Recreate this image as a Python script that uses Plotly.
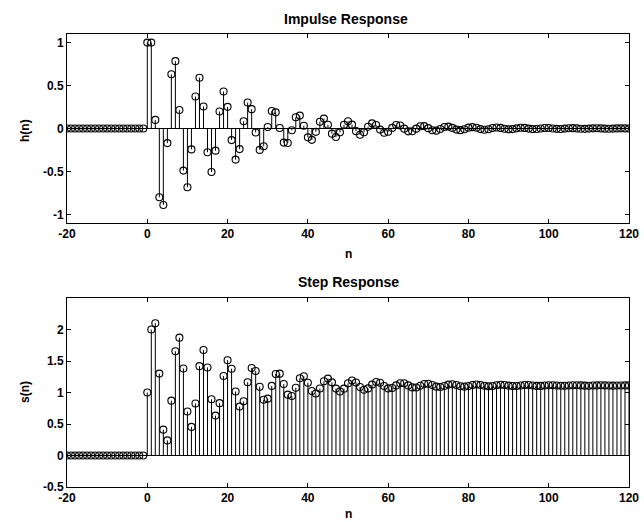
import plotly.graph_objects as go

# sample index n = -20 ... 120
n_start = -20
n_end = 120
n = list(range(n_start, n_end + 1))

# impulse response h(n): zeros for n < 0, then values for n = 0..120
h_neg = [0.0] * 20
h_pos = [
    1.0, 1.0, 0.1, -0.8, -0.89, -0.17, 0.631, 0.784, 0.216, -0.490,          # 0-9
    -0.684, -0.243, 0.372, 0.591, 0.256, -0.276, -0.506, -0.258, 0.198, 0.430, # 10-19
    0.252, -0.135, -0.362, -0.240, 0.085, 0.302, 0.225, -0.046, -0.249, -0.207, # 20-29
    0.017, 0.203, 0.188, 0.005, -0.164, -0.169, -0.021, 0.131, 0.150, 0.032,  # 30-39
    -0.103, -0.132, -0.039, 0.079, 0.115, 0.043, -0.060, -0.099, -0.045, 0.044, # 40-49
    0.084, 0.045, -0.031, -0.072, -0.043, 0.021, 0.060, 0.041, -0.013, -0.050, # 50-59
    -0.038, 0.007, 0.041, 0.035, -0.002, -0.033, -0.032, -0.002, 0.027, 0.028, # 60-69
    0.004, -0.021, -0.025, -0.006, 0.017, 0.022, 0.007, -0.013, -0.019, -0.008, # 70-79
    0.010, 0.016, 0.008, -0.007, -0.014, -0.008, 0.005, 0.012, 0.007, -0.003, # 80-89
    -0.010, -0.007, 0.002, 0.008, 0.007, -0.001, -0.007, -0.006, 0.000, 0.006, # 90-99
    0.005, 0.000, -0.004, -0.005, -0.001, 0.003, 0.004, 0.001, -0.003, -0.004, # 100-109
    -0.001, 0.002, 0.003, 0.001, -0.002, -0.003, -0.001, 0.001, 0.002, 0.001, # 110-119
    -0.001,                                                                    # 120
]
h = h_neg + h_pos

# step response s(n)
s_neg = [0.0] * 20
s_pos = [
    1.0, 2.0, 2.1, 1.3, 0.41, 0.24, 0.871, 1.655, 1.871, 1.382,               # 0-9
    0.698, 0.454, 0.826, 1.418, 1.674, 1.398, 0.892, 0.633, 0.831, 1.261,     # 10-19
    1.513, 1.378, 1.016, 0.776, 0.861, 1.163, 1.388, 1.341, 1.092, 0.885,     # 20-29
    0.902, 1.105, 1.294, 1.299, 1.134, 0.966, 0.945, 1.076, 1.225, 1.257,     # 30-39
    1.155, 1.023, 0.984, 1.063, 1.178, 1.221, 1.161, 1.062, 1.017, 1.061,     # 40-49
    1.146, 1.191, 1.159, 1.088, 1.044, 1.065, 1.125, 1.167, 1.154, 1.104,     # 50-59
    1.065, 1.072, 1.113, 1.148, 1.146, 1.113, 1.081, 1.079, 1.106, 1.135,     # 60-69
    1.139, 1.118, 1.093, 1.087, 1.103, 1.125, 1.132, 1.120, 1.100, 1.093,     # 70-79
    1.102, 1.119, 1.127, 1.120, 1.106, 1.098, 1.103, 1.115, 1.122, 1.119,     # 80-89
    1.109, 1.102, 1.104, 1.112, 1.119, 1.118, 1.111, 1.105, 1.105, 1.111,     # 90-99
    1.116, 1.116, 1.112, 1.107, 1.106, 1.110, 1.114, 1.115, 1.113, 1.109,     # 100-109
    1.108, 1.110, 1.113, 1.114, 1.113, 1.110, 1.109, 1.110, 1.112, 1.113,     # 110-119
    1.113,                                                                     # 120
]
s = s_neg + s_pos

xticks = [-20, 0, 20, 40, 60, 80, 100, 120]
h_yticks = [-1, -0.5, 0, 0.5, 1]
h_yticklabels = ["-1", "-0.5", "0", "0.5", "1"]
s_yticks = [-0.5, 0, 0.5, 1, 1.5, 2]
s_yticklabels = ["-0.5", "0", "0.5", "1", "1.5", "2"]

FONT = "Liberation Sans"
W, H = 644, 522

fig = go.Figure()


def stem(xs, ys, xa, ya):
    sx, sy = [], []
    for xv, yv in zip(xs, ys):
        sx += [xv, xv, None]
        sy += [0, yv, None]
    # baseline
    fig.add_trace(go.Scatter(x=[xs[0], xs[-1]], y=[0, 0], mode="lines",
                             line=dict(color="black", width=1),
                             xaxis=xa, yaxis=ya, showlegend=False, hoverinfo="skip"))
    fig.add_trace(go.Scatter(x=sx, y=sy, mode="lines",
                             line=dict(color="black", width=1),
                             xaxis=xa, yaxis=ya, showlegend=False, hoverinfo="skip"))
    fig.add_trace(go.Scatter(x=xs, y=ys, mode="markers",
                             marker=dict(symbol="circle-open", size=7,
                                         color="black", line=dict(width=1.1)),
                             xaxis=xa, yaxis=ya, showlegend=False))


stem(n, h, "x", "y")
stem(n, s, "x2", "y2")

xdom = [67 / W, 629 / W]
top_dom = [1 - 223 / H, 1 - 34 / H]
bot_dom = [1 - 487 / H, 1 - 298 / H]

tickfont = dict(family=FONT, size=12, color="black", weight="bold")
common_x = dict(range=[-20, 120], tickvals=xticks, ticktext=[str(v) for v in xticks],
                ticks="inside", ticklen=4, tickcolor="black", showline=True,
                linecolor="black", linewidth=1, mirror="ticks", showgrid=False,
                zeroline=False, tickfont=tickfont, automargin=False, domain=xdom)
common_y = dict(ticks="inside", ticklen=4, tickcolor="black", showline=True,
                linecolor="black", linewidth=1, mirror="ticks", showgrid=False,
                zeroline=False, tickfont=tickfont, automargin=False)

fig.update_layout(
    width=W, height=H,
    margin=dict(l=0, r=0, t=0, b=0),
    paper_bgcolor="white", plot_bgcolor="white",
    xaxis=dict(**common_x, anchor="y"),
    yaxis=dict(**common_y, range=[-1.1, 1.1], tickvals=h_yticks,
               ticktext=h_yticklabels, domain=top_dom, anchor="x"),
    xaxis2=dict(**common_x, anchor="y2"),
    yaxis2=dict(**common_y, range=[-0.5, 2.5], tickvals=s_yticks,
                ticktext=s_yticklabels, domain=bot_dom, anchor="x2"),
)

titlefont = dict(family=FONT, size=14, color="black", weight="bold")
labfont = dict(family=FONT, size=12, color="black", weight="bold")
cx = (67 + 629) / 2 / W
ann = [
    dict(text="Impulse Response", x=346 / W, y=1 - 19 / H, font=titlefont),
    dict(text="Step Response", x=348 / W, y=1 - 282 / H, font=titlefont),
    dict(text="n", x=cx, y=1 - 254 / H, font=labfont),
    dict(text="n", x=cx, y=1 - 514 / H, font=labfont),
    dict(text="h(n)", x=25 / W, y=1 - 130 / H, textangle=-90, font=labfont),
    dict(text="s(n)", x=25 / W, y=1 - 392 / H, textangle=-90, font=labfont),
]
for a in ann:
    fig.add_annotation(xref="paper", yref="paper", showarrow=False,
                       xanchor="center", yanchor="middle", **a)

fig.write_html(
    "out.html",
    config={"displayModeBar": False},
    post_script="document.body.style.margin='0';document.body.style.overflow='hidden';",
)
